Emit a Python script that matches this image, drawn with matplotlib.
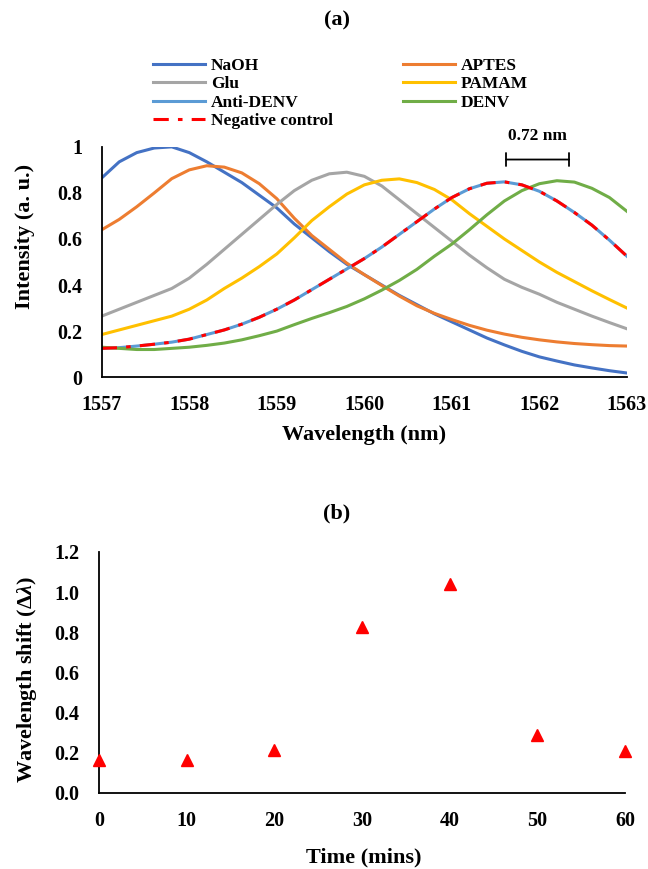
import matplotlib
matplotlib.use("Agg")
import matplotlib.pyplot as plt
import numpy as np

plt.rcParams['font.family'] = ['Liberation Serif', 'DejaVu Serif']
plt.rcParams['font.weight'] = 'bold'
plt.rcParams['mathtext.fontset'] = 'custom'
plt.rcParams['mathtext.rm'] = 'Liberation Serif:bold'
plt.rcParams['mathtext.it'] = 'Liberation Serif:italic:bold'

# (a) spectra, every 0.2 nm
wavelength = [1557.0, 1557.2, 1557.4, 1557.6, 1557.8, 1558.0, 1558.2, 1558.4, 1558.6,
              1558.8, 1559.0, 1559.2, 1559.4, 1559.6, 1559.8, 1560.0, 1560.2, 1560.4,
              1560.6, 1560.8, 1561.0, 1561.2, 1561.4, 1561.6, 1561.8, 1562.0, 1562.2,
              1562.4, 1562.6, 1562.8, 1563.0]
naoh = [0.865, 0.935, 0.975, 0.995, 1.0, 0.975, 0.935, 0.89, 0.845, 0.79, 0.735,
        0.665, 0.605, 0.545, 0.49, 0.445, 0.40, 0.355, 0.315, 0.275, 0.24, 0.205,
        0.17, 0.14, 0.112, 0.088, 0.07, 0.053, 0.04, 0.028, 0.018]
aptes = [0.64, 0.685, 0.74, 0.80, 0.862, 0.90, 0.918, 0.912, 0.887, 0.84, 0.775,
         0.69, 0.615, 0.555, 0.495, 0.445, 0.398, 0.352, 0.31, 0.277, 0.25, 0.225,
         0.204, 0.187, 0.173, 0.162, 0.153, 0.146, 0.141, 0.137, 0.135]
glu = [0.265, 0.295, 0.325, 0.355, 0.385, 0.43, 0.49, 0.555, 0.62, 0.685, 0.75,
       0.81, 0.855, 0.883, 0.89, 0.872, 0.83, 0.77, 0.71, 0.65, 0.59, 0.53, 0.475,
       0.425, 0.39, 0.36, 0.325, 0.295, 0.265, 0.237, 0.21]
pamam = [0.185, 0.205, 0.225, 0.245, 0.265, 0.295, 0.335, 0.385, 0.43, 0.48, 0.535,
         0.605, 0.68, 0.74, 0.795, 0.835, 0.855, 0.861, 0.845, 0.815, 0.77, 0.71,
         0.655, 0.60, 0.55, 0.50, 0.455, 0.415, 0.375, 0.337, 0.30]
anti_denv = [0.125, 0.128, 0.135, 0.143, 0.152, 0.165, 0.185, 0.205, 0.23, 0.26,
             0.295, 0.335, 0.38, 0.425, 0.47, 0.515, 0.565, 0.62, 0.675, 0.73, 0.78,
             0.818, 0.842, 0.848, 0.835, 0.807, 0.765, 0.715, 0.66, 0.595, 0.525]
denv = [0.13, 0.125, 0.12, 0.12, 0.125, 0.13, 0.138, 0.148, 0.162, 0.18, 0.20, 0.228,
        0.255, 0.28, 0.307, 0.34, 0.378, 0.42, 0.468, 0.525, 0.578, 0.64, 0.705,
        0.765, 0.81, 0.84, 0.853, 0.847, 0.82, 0.78, 0.72]
neg_control = [0.125, 0.128, 0.135, 0.143, 0.152, 0.165, 0.185, 0.205, 0.23, 0.26,
               0.295, 0.335, 0.38, 0.425, 0.47, 0.515, 0.565, 0.62, 0.675, 0.73, 0.78,
               0.818, 0.842, 0.848, 0.835, 0.807, 0.765, 0.715, 0.66, 0.595, 0.525]

series_names = ['NaOH', 'APTES', 'Glu', 'PAMAM', 'Anti-DENV', 'DENV']
series_vals = [naoh, aptes, glu, pamam, anti_denv, denv]
series_colors = ['#4472C4', '#ED7D31', '#A5A5A5', '#FFC000', '#5B9BD5', '#70AD47']

shift_start = 1561.62
shift_nm = 0.72

# (b) wavelength shift vs time
time_min = [0, 10, 20, 30, 40, 50, 60]
shift = [0.162, 0.162, 0.215, 0.828, 1.039, 0.286, 0.207]

fig = plt.figure(figsize=(6.48, 8.69), dpi=100)

ax1 = fig.add_axes([0.157, 0.566, 0.8105, 0.265])
lines = {}
for name, vals, col in zip(series_names, series_vals, series_colors):
    lines[name], = ax1.plot(wavelength, vals, color=col, lw=2.2, label=name,
                            solid_joinstyle='round')
lines['Negative control'], = ax1.plot(wavelength, neg_control, color='#FF0000',
                                      lw=2.2, ls=(0, (5, 3, 1.5, 3)),
                                      label='Negative control')
ax1.set_xlim(1557, 1563)
ax1.set_ylim(0, 1)
ax1.set_xticks(np.arange(1557, 1564, 1))
ax1.set_yticks([0, 0.2, 0.4, 0.6, 0.8, 1.0])
ax1.set_yticklabels(['0', '0.2', '0.4', '0.6', '0.8', '1'])

# scale bar between the two last peaks
ax1.annotate('', xy=(shift_start + shift_nm, 0.945), xytext=(shift_start, 0.945),
             arrowprops=dict(arrowstyle='|-|,widthA=0.45,widthB=0.45', color='black',
                             lw=1.3, shrinkA=0, shrinkB=0))
ax1.text(shift_start + shift_nm / 2, 1.046, '%.2f nm' % shift_nm, ha='center',
         va='center', fontsize=12.5, fontweight='bold', clip_on=False)

order = ['NaOH', 'Glu', 'Anti-DENV', 'Negative control', 'APTES', 'PAMAM', 'DENV']
fig.legend([lines[k] for k in order], order, loc='upper left',
           bbox_to_anchor=(153 / 648, 1 - 58 / 869), ncol=2, frameon=False,
           fontsize=12.5, handlelength=3.0, handletextpad=0.35, columnspacing=4.0,
           labelspacing=0.12, borderpad=0, borderaxespad=0)

ax2 = fig.add_axes([0.153, 0.0875, 0.8115, 0.2775])
ax2.plot(time_min, shift, ls='none', marker='^', color='#FF0000', markersize=8.5,
         clip_on=False, zorder=3)
ax2.set_xlim(0, 60)
ax2.set_ylim(0, 1.2)
ax2.set_xticks(np.arange(0, 61, 10))
ax2.set_yticks(np.arange(0, 1.21, 0.2))
ax2.set_yticklabels(['%.1f' % v for v in np.arange(0, 1.21, 0.2)])

for ax in (ax1, ax2):
    for s in ('top', 'right'):
        ax.spines[s].set_visible(False)
    for s in ('left', 'bottom'):
        ax.spines[s].set_linewidth(1.3)
    ax.tick_params(length=0, labelsize=14.5)
    ax.tick_params(axis='y', pad=14)
    ax.tick_params(axis='x', pad=13)

fig.text(337 / 648, 1 - 20 / 869, '(a)', ha='center', va='center', fontsize=16)
fig.text(337 / 648, 1 - 513 / 869, '(b)', ha='center', va='center', fontsize=16)
fig.text(25 / 648, 1 - 236 / 869, 'Intensity (a. u.)', rotation=90, ha='center',
         va='center', fontsize=16)
fig.text(27 / 648, 1 - 680 / 869, r'Wavelength shift (Δ$\lambda$)', rotation=90,
         ha='center', va='center', fontsize=16)
fig.text(364 / 648, 1 - 435 / 869, 'Wavelength (nm)', ha='center', va='center',
         fontsize=16)
fig.text(364 / 648, 1 - 857 / 869, 'Time (mins)', ha='center', va='center',
         fontsize=16)

fig.savefig('out.png', dpi=100)
